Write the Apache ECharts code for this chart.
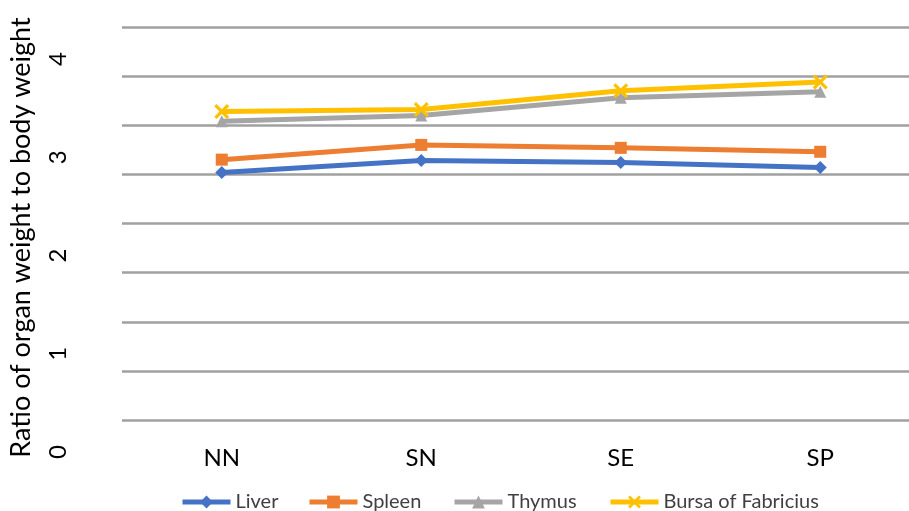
<!DOCTYPE html>
<html>
<head>
<meta charset="utf-8">
<script src="https://cdn.jsdelivr.net/npm/echarts@6/dist/echarts.min.js"></script>
<style>html,body{margin:0;padding:0;background:#fff}#c{width:909px;height:511px}</style>
</head>
<body>
<div id="c"></div>
<script>
const categories = ['NN', 'SN', 'SE', 'SP'];
const liver = [2.52, 2.64, 2.62, 2.57];
const spleen = [2.65, 2.80, 2.77, 2.73];
const thymus = [3.04, 3.10, 3.28, 3.34];
const bursa = [3.14, 3.16, 3.35, 3.44];
const seriesNames = ['Liver', 'Spleen', 'Thymus', 'Bursa of Fabricius'];
const yTitle = 'Ratio of organ weight to body weight';

const FONT = 'Lato';
const xMark = 'path://M0,1.5 L1.5,0 L5,3.5 L8.5,0 L10,1.5 L6.5,5 L10,8.5 L8.5,10 L5,6.5 L1.5,10 L0,8.5 L3.5,5 Z';

function mk(name, data, color, symbol, size) {
  return {
    name: name, type: 'line', data: data,
    symbol: symbol, symbolSize: size,
    lineStyle: { color: color, width: 5 },
    itemStyle: { color: color },
    emphasis: { disabled: true }
  };
}
const legendLeft = [180, 307, 452, 608];
const legends = seriesNames.map((n, i) => ({
  left: legendLeft[i], top: 492, padding: 0, itemWidth: 48, itemHeight: 16,
  lineStyle: { width: 5 },
  textStyle: { color: '#404040', fontSize: 20, fontFamily: FONT },
  data: [n]
}));

const chart = echarts.init(document.getElementById('c'));
chart.setOption({
  animation: false,
  textStyle: { fontFamily: FONT },
  grid: { left: 122, width: 798, top: 27, bottom: 91, containLabel: false, outerBoundsMode: 'none' },
  xAxis: {
    type: 'category', data: categories, boundaryGap: true,
    axisLine: { show: false }, axisTick: { show: false },
    axisLabel: { color: '#000', fontSize: 24, fontFamily: FONT, margin: 26 }
  },
  yAxis: {
    type: 'value', min: 0, max: 4, interval: 0.5,
    name: yTitle, nameLocation: 'middle', nameRotate: 90, nameGap: 87,
    nameTextStyle: { color: '#000', fontSize: 27, fontFamily: FONT, padding: [0, 28, 0, 0] },
    axisLine: { show: false }, axisTick: { show: false },
    axisLabel: {
      rotate: 90, color: '#000', fontSize: 24, fontFamily: FONT, margin: 52,
      padding: [0, 64, 0, 0],
      formatter: v => (v % 1 === 0 ? String(v) : '')
    },
    splitLine: { show: true, lineStyle: { color: '#a0a0a0', width: 2.5 } }
  },
  legend: legends,
  series: [
    mk(seriesNames[0], liver, '#4472C4', 'diamond', 13),
    mk(seriesNames[1], spleen, '#ED7D31', 'rect', 12),
    mk(seriesNames[2], thymus, '#A5A5A5', 'triangle', 12),
    mk(seriesNames[3], bursa, '#FFC000', xMark, 15)
  ]
});
</script>
</body>
</html>
